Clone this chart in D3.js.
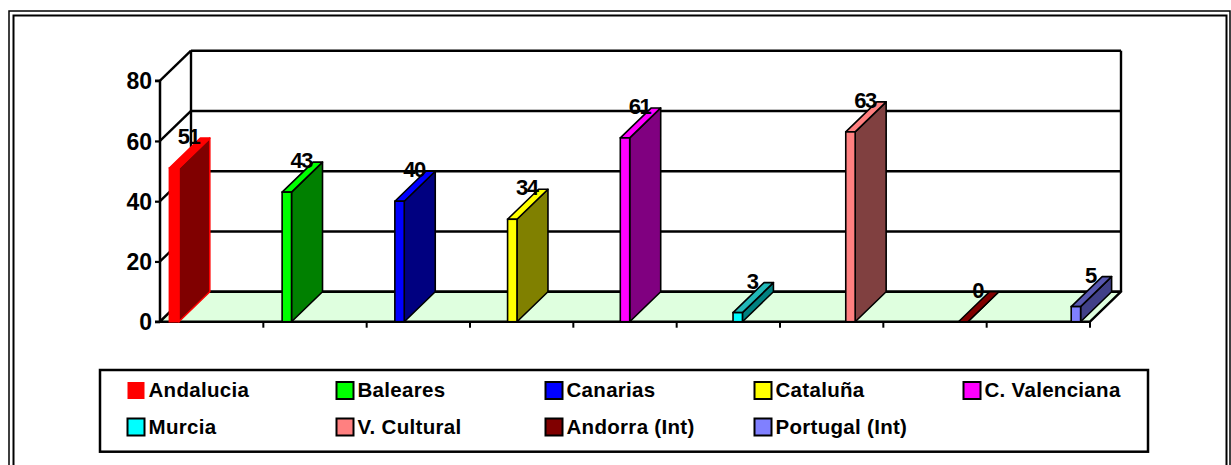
<!DOCTYPE html>
<html>
<head>
<meta charset="utf-8">
<script src="https://cdn.jsdelivr.net/npm/d3@7"></script>
<style>
  body { margin: 0; background: #fff; }
  svg { display: block; font-family: "Liberation Sans", Arial, sans-serif; }
</style>
</head>
<body>
<div id="chart"></div>
<script>
// data
var regions = ['Andalucia', 'Baleares', 'Canarias', 'Cataluña', 'C. Valenciana',
    'Murcia', 'V. Cultural', 'Andorra (Int)', 'Portugal (Int)'];
var values = [51, 43, 40, 34, 61, 3, 63, 0, 5];
var yTicks = [0, 20, 40, 60, 80];

// colours for each series: front face, side face, top face, outline
var frontColors = ['#FF0000', '#00FF00', '#0000FF', '#FFFF00', '#FF00FF', '#00FFFF', '#FF8080', '#800000', '#8080FF'];
var sideColors = ['#800000', '#008000', '#000080', '#808000', '#800080', '#008080', '#804040', '#400000', '#404088'];
var topColors = ['#FF0000', '#00FF00', '#0000FF', '#FFFF00', '#FF00FF', '#22B8B8', '#FF8080', '#800000', '#5858B0'];
var edgeColors = ['#FF0000', '#000', '#000', '#000', '#000', '#000', '#000', '#000', '#000'];

var W = 1231, H = 465;
var depthX = 31, depthY = -30;
var x0 = 160, x1 = 1090, yBase = 321.7, yTop = 80.7;

var svg = d3.select('#chart').append('svg')
    .attr('width', W)
    .attr('height', H);

// double outer frame
svg.append('rect').attr('x', 9).attr('y', 11).attr('width', 1221).attr('height', 470)
    .attr('fill', 'none').attr('stroke', '#000').attr('stroke-width', 1.5);
svg.append('rect').attr('x', 13.5).attr('y', 15.5).attr('width', 1213).attr('height', 470)
    .attr('fill', 'none').attr('stroke', '#000').attr('stroke-width', 2);

var x = d3.scaleBand()
    .domain(regions)
    .range([x0, x1])
    .padding(0);

var xs = d3.scaleBand()
    .domain(regions)
    .range([0, x.bandwidth()])
    .paddingInner(0)
    .paddingOuter(1);

var y = d3.scaleLinear()
    .domain([0, 80])
    .range([yBase, yTop]);

var g = svg.append('g');

// back wall
g.append('rect')
    .attr('x', x0 + depthX).attr('y', y(80) + depthY)
    .attr('width', x1 - x0).attr('height', y(0) - y(80))
    .attr('fill', '#fff');

g.selectAll('.grid')
    .data(yTicks)
    .enter()
    .append('line')
    .attr('x1', x0 + depthX).attr('x2', x1 + depthX)
    .attr('y1', d => y(d) + depthY).attr('y2', d => y(d) + depthY)
    .attr('stroke', '#000').attr('stroke-width', 2.4);

// left wall lines
g.selectAll('.side')
    .data(yTicks)
    .enter()
    .append('line')
    .attr('x1', x0).attr('x2', x0 + depthX)
    .attr('y1', d => y(d)).attr('y2', d => y(d) + depthY)
    .attr('stroke', '#000').attr('stroke-width', 2.4);

g.append('line')
    .attr('x1', x0 + depthX).attr('x2', x0 + depthX)
    .attr('y1', y(80) + depthY).attr('y2', y(0) + depthY)
    .attr('stroke', '#000').attr('stroke-width', 2.4);
g.append('line')
    .attr('x1', x1 + depthX).attr('x2', x1 + depthX)
    .attr('y1', y(80) + depthY).attr('y2', y(0) + depthY)
    .attr('stroke', '#000').attr('stroke-width', 2.4);

// floor
var floorPts = [[x0, y(0)], [x1, y(0)], [x1 + depthX, y(0) + depthY], [x0 + depthX, y(0) + depthY]];
g.append('polygon')
    .attr('points', floorPts.map(p => p.join(',')).join(' '))
    .attr('fill', '#DFFFDF')
    .attr('stroke', '#000')
    .attr('stroke-width', 2.4)
    .attr('stroke-linejoin', 'round');

// category ticks under the floor
g.selectAll('.xtick')
    .data(regions)
    .enter()
    .append('line')
    .attr('x1', d => x(d) + x.bandwidth()).attr('x2', d => x(d) + x.bandwidth())
    .attr('y1', y(0)).attr('y2', y(0) + 6)
    .attr('stroke', '#000').attr('stroke-width', 2);

// bars
var bars = g.selectAll('.bar')
    .data(regions)
    .enter()
    .append('g')
    .attr('class', 'bar');

function pts(a) { return a.map(p => p.join(',')).join(' '); }

bars.append('polygon')
    .attr('points', function (d, i) {
        var xr = x(d) + xs(d) + xs.bandwidth();
        return pts([[xr, y(values[i])], [xr + depthX, y(values[i]) + depthY], [xr + depthX, y(0) + depthY], [xr, y(0)]]);
    })
    .attr('fill', (d, i) => sideColors[i])
    .attr('stroke', (d, i) => edgeColors[i])
    .attr('stroke-width', 1.6)
    .attr('stroke-linejoin', 'round');

bars.append('polygon')
    .attr('points', function (d, i) {
        var xl = x(d) + xs(d), xr = xl + xs.bandwidth();
        return pts([[xl, y(values[i])], [xr, y(values[i])], [xr + depthX, y(values[i]) + depthY], [xl + depthX, y(values[i]) + depthY]]);
    })
    .attr('fill', (d, i) => topColors[i])
    .attr('stroke', (d, i) => edgeColors[i])
    .attr('stroke-width', 1.6)
    .attr('stroke-linejoin', 'round');

bars.append('rect')
    .attr('x', d => x(d) + xs(d))
    .attr('y', (d, i) => y(values[i]))
    .attr('width', xs.bandwidth())
    .attr('height', (d, i) => y(0) - y(values[i]))
    .attr('fill', (d, i) => frontColors[i])
    .attr('stroke', (d, i) => edgeColors[i])
    .attr('stroke-width', 1.6);

// value labels
bars.append('text')
    .attr('x', d => x(d) + xs(d) + xs.bandwidth() / 2 + depthX / 2 - 1)
    .attr('y', (d, i) => y(values[i]) + depthY / 2 - 9)
    .attr('text-anchor', 'middle')
    .attr('font-size', 22)
    .attr('font-weight', 'bold')
    .attr('letter-spacing', -1.5)
    .attr('fill', '#000')
    .text((d, i) => values[i]);

// y axis
var yAxis = svg.append('g')
    .attr('transform', `translate(${x0},0)`)
    .call(d3.axisLeft(y).tickValues(yTicks).tickSize(5).tickPadding(3));
yAxis.select('.domain').attr('stroke', '#000').attr('stroke-width', 2.5)
    .attr('d', `M-5,${y(0)}H0V${y(80)}H-5`);
yAxis.selectAll('.tick line').attr('stroke', '#000').attr('stroke-width', 2.2);
yAxis.selectAll('.tick text')
    .attr('font-family', '"Liberation Sans", Arial, sans-serif')
    .attr('font-size', 23)
    .attr('font-weight', 'bold')
    .attr('fill', '#000')
    .attr('dy', '0.36em');

// legend
var legend = svg.append('g');
legend.append('rect')
    .attr('x', 100).attr('y', 370).attr('width', 1048).attr('height', 81.7)
    .attr('fill', '#fff').attr('stroke', '#000').attr('stroke-width', 2.5);

var items = legend.selectAll('.item')
    .data(regions)
    .enter()
    .append('g')
    .attr('transform', (d, i) => `translate(${127.5 + (i % 5) * 209},${i < 5 ? 390 : 426.5})`);

items.append('rect')
    .attr('x', 0).attr('y', -8)
    .attr('width', 17).attr('height', 17)
    .attr('fill', (d, i) => frontColors[i])
    .attr('stroke', (d, i) => i === 0 ? 'none' : '#000')
    .attr('stroke-width', 2);

items.append('text')
    .attr('x', 21)
    .attr('y', 7)
    .attr('font-size', 20.5)
    .attr('font-weight', 'bold')
    .attr('letter-spacing', 0.3)
    .attr('fill', '#000')
    .text(d => d);
</script>
</body>
</html>
